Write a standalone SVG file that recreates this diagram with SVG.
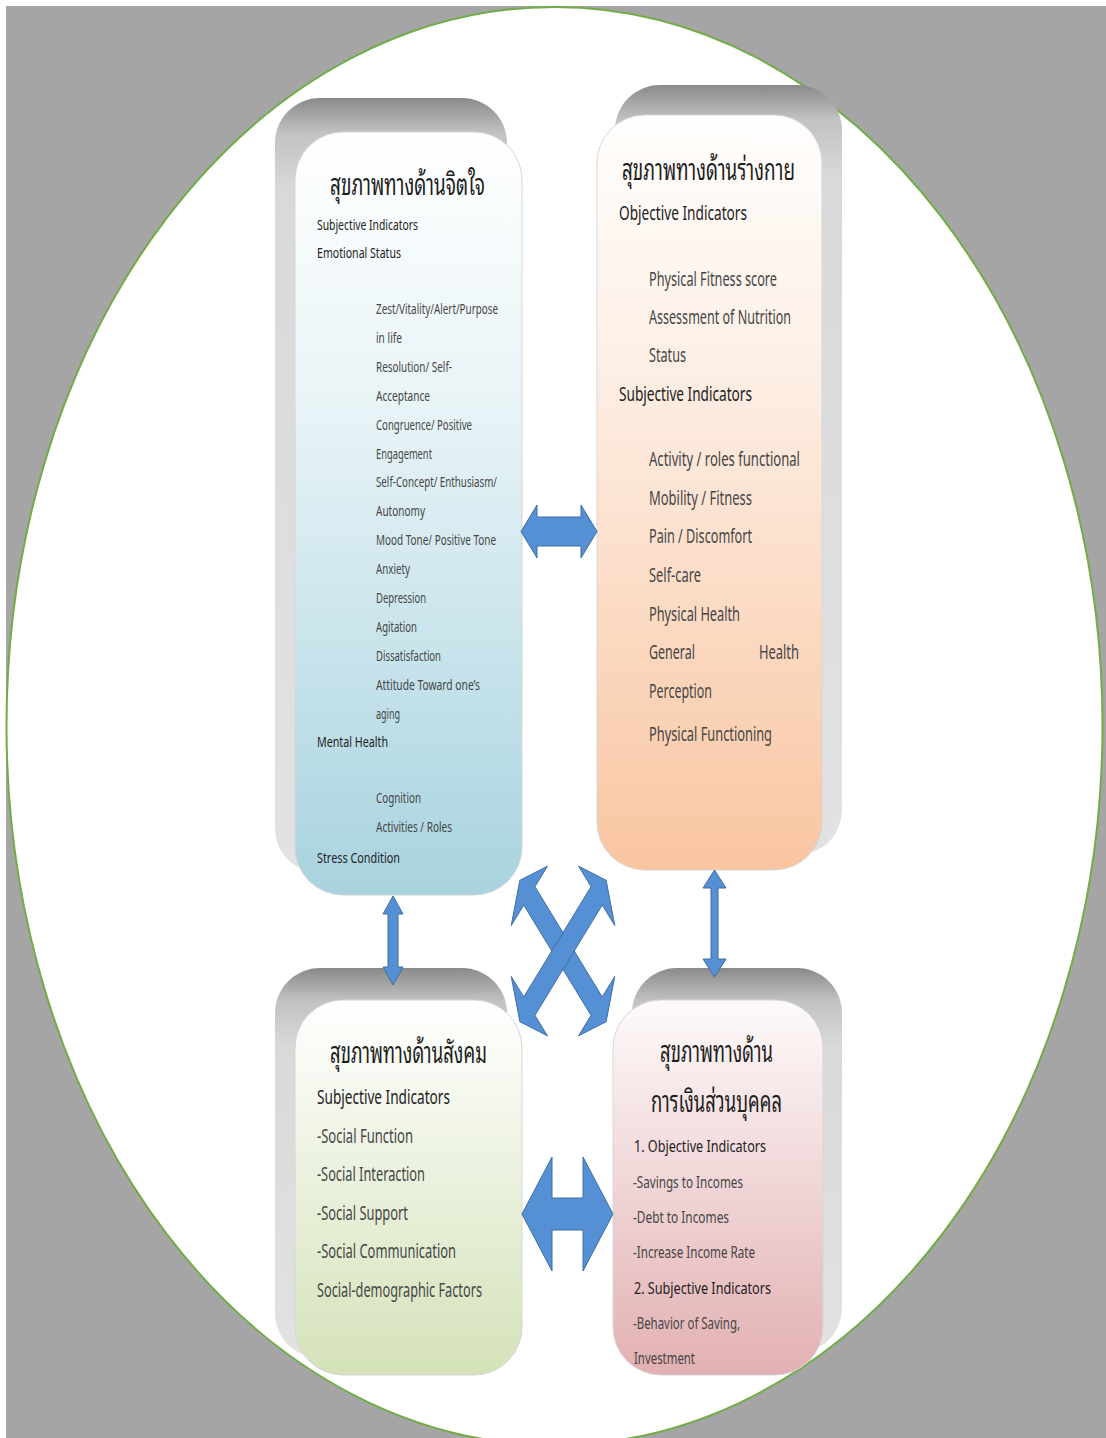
<svg xmlns="http://www.w3.org/2000/svg" width="1106" height="1438" viewBox="0 0 1106 1438">
  <defs>
    <linearGradient id="backTall" x1="0" y1="0" x2="0" y2="1">
      <stop offset="0" stop-color="#8a8a8a"/>
      <stop offset="0.045" stop-color="#c2c2c2"/>
      <stop offset="0.12" stop-color="#d9d9d9"/>
      <stop offset="1" stop-color="#e2e2e2"/>
    </linearGradient>
    <linearGradient id="backShort" x1="0" y1="0" x2="0" y2="1">
      <stop offset="0" stop-color="#8a8a8a"/>
      <stop offset="0.085" stop-color="#c2c2c2"/>
      <stop offset="0.2" stop-color="#d9d9d9"/>
      <stop offset="1" stop-color="#e2e2e2"/>
    </linearGradient>
    <linearGradient id="fillBlue" x1="0" y1="0" x2="0" y2="1">
      <stop offset="0" stop-color="#ffffff"/>
      <stop offset="0.35" stop-color="#e9f4f7"/>
      <stop offset="1" stop-color="#a8d3df"/>
    </linearGradient>
    <linearGradient id="fillPeach" x1="0" y1="0" x2="0" y2="1">
      <stop offset="0" stop-color="#fffefd"/>
      <stop offset="0.3" stop-color="#fdf1e8"/>
      <stop offset="1" stop-color="#f9c5a1"/>
    </linearGradient>
    <linearGradient id="fillGreen" x1="0" y1="0" x2="0" y2="1">
      <stop offset="0" stop-color="#ffffff"/>
      <stop offset="1" stop-color="#d4e2b9"/>
    </linearGradient>
    <linearGradient id="fillPink" x1="0" y1="0" x2="0" y2="1">
      <stop offset="0" stop-color="#fefafa"/>
      <stop offset="1" stop-color="#e2b0b2"/>
    </linearGradient>
    <style>
      .back { stroke: none; }
      .front { stroke: #d6d6d6; stroke-width: 1; }
      .th { font-family: "Noto Sans Thai Looped", "Loma", "Garuda", "Tlwg Typo", "Noto Serif Thai", "Noto Sans Thai", "DejaVu Sans", sans-serif; font-size: 30px; fill: #1e1e1e; }
      .sub { font-family: "Noto Sans", "Liberation Sans", sans-serif; fill: #222222; }
      .item { font-family: "Noto Sans", "Liberation Sans", sans-serif; fill: #464646; }
      .s14 { font-size: 14px; }
      .s15 { font-size: 15px; }
      .s16 { font-size: 16px; }
      .s17 { font-size: 17px; }
      .s19 { font-size: 19px; }
      .arrow { fill: #5590d4; stroke: #3e6da6; stroke-width: 1; stroke-linejoin: miter; }
    </style>
  </defs>

  <!-- page -->
  <rect x="0" y="0" width="1106" height="1438" fill="#ffffff"/>
  <rect x="6" y="6" width="1100" height="1432" fill="#a5a5a5"/>
  <ellipse cx="554.5" cy="726" rx="548" ry="719" fill="#ffffff" stroke="#70ad47" stroke-width="2"/>

  <!-- mental health -->
  <g id="node-mental">
    <rect class="back" x="275" y="98" width="232" height="775" rx="45" fill="url(#backTall)"/>
    <rect class="front" x="295" y="132" width="227" height="763" rx="48" fill="url(#fillBlue)"/>
    <text class="th" x="330" y="195" textLength="155" lengthAdjust="spacingAndGlyphs">สุขภาพทางด้านจิตใจ</text>
    <text class="sub s15" x="317" y="230" textLength="101" lengthAdjust="spacingAndGlyphs">Subjective Indicators</text>
    <text class="sub s15" x="317" y="258" textLength="84" lengthAdjust="spacingAndGlyphs">Emotional Status</text>
    <text class="item s14" x="376" y="314" textLength="122" lengthAdjust="spacingAndGlyphs">Zest/Vitality/Alert/Purpose</text>
    <text class="item s14" x="376" y="343" textLength="26" lengthAdjust="spacingAndGlyphs">in life</text>
    <text class="item s14" x="376" y="372" textLength="76" lengthAdjust="spacingAndGlyphs">Resolution/ Self-</text>
    <text class="item s14" x="376" y="401" textLength="54" lengthAdjust="spacingAndGlyphs">Acceptance</text>
    <text class="item s14" x="376" y="430" textLength="96" lengthAdjust="spacingAndGlyphs">Congruence/ Positive</text>
    <text class="item s14" x="376" y="459" textLength="56" lengthAdjust="spacingAndGlyphs">Engagement</text>
    <text class="item s14" x="376" y="487" textLength="121" lengthAdjust="spacingAndGlyphs">Self-Concept/ Enthusiasm/</text>
    <text class="item s14" x="376" y="516" textLength="49" lengthAdjust="spacingAndGlyphs">Autonomy</text>
    <text class="item s14" x="376" y="545" textLength="120" lengthAdjust="spacingAndGlyphs">Mood Tone/ Positive Tone</text>
    <text class="item s14" x="376" y="574" textLength="34" lengthAdjust="spacingAndGlyphs">Anxiety</text>
    <text class="item s14" x="376" y="603" textLength="50" lengthAdjust="spacingAndGlyphs">Depression</text>
    <text class="item s14" x="376" y="632" textLength="41" lengthAdjust="spacingAndGlyphs">Agitation</text>
    <text class="item s14" x="376" y="661" textLength="65" lengthAdjust="spacingAndGlyphs">Dissatisfaction</text>
    <text class="item s14" x="376" y="690" textLength="104" lengthAdjust="spacingAndGlyphs">Attitude Toward one’s</text>
    <text class="item s14" x="376" y="719" textLength="24" lengthAdjust="spacingAndGlyphs">aging</text>
    <text class="sub s15" x="317" y="747" textLength="71" lengthAdjust="spacingAndGlyphs">Mental Health</text>
    <text class="item s14" x="376" y="803" textLength="45" lengthAdjust="spacingAndGlyphs">Cognition</text>
    <text class="item s14" x="376" y="832" textLength="76" lengthAdjust="spacingAndGlyphs">Activities / Roles</text>
    <text class="sub s15" x="317" y="863" textLength="83" lengthAdjust="spacingAndGlyphs">Stress Condition</text>
  </g>

  <!-- physical health -->
  <g id="node-physical">
    <rect class="back" x="615" y="85" width="227" height="770" rx="45" fill="url(#backTall)"/>
    <rect class="front" x="597" y="115" width="225" height="755" rx="48" fill="url(#fillPeach)"/>
    <text class="th" x="622" y="180" textLength="173" lengthAdjust="spacingAndGlyphs">สุขภาพทางด้านร่างกาย</text>
    <text class="sub s19" x="619" y="220" textLength="128" lengthAdjust="spacingAndGlyphs">Objective Indicators</text>
    <text class="item s19" x="649" y="286" textLength="128" lengthAdjust="spacingAndGlyphs">Physical Fitness score</text>
    <text class="item s19" x="649" y="324" textLength="142" lengthAdjust="spacingAndGlyphs">Assessment of Nutrition</text>
    <text class="item s19" x="649" y="362" textLength="37" lengthAdjust="spacingAndGlyphs">Status</text>
    <text class="sub s19" x="619" y="401" textLength="133" lengthAdjust="spacingAndGlyphs">Subjective Indicators</text>
    <text class="item s19" x="649" y="466" textLength="151" lengthAdjust="spacingAndGlyphs">Activity / roles functional</text>
    <text class="item s19" x="649" y="505" textLength="103" lengthAdjust="spacingAndGlyphs">Mobility / Fitness</text>
    <text class="item s19" x="649" y="543" textLength="103" lengthAdjust="spacingAndGlyphs">Pain / Discomfort</text>
    <text class="item s19" x="649" y="582" textLength="52" lengthAdjust="spacingAndGlyphs">Self-care</text>
    <text class="item s19" x="649" y="621" textLength="91" lengthAdjust="spacingAndGlyphs">Physical Health</text>
    <text class="item s19" x="649" y="659" textLength="46" lengthAdjust="spacingAndGlyphs">General</text>
    <text class="item s19" x="759" y="659" textLength="40" lengthAdjust="spacingAndGlyphs">Health</text>
    <text class="item s19" x="649" y="698" textLength="63" lengthAdjust="spacingAndGlyphs">Perception</text>
    <text class="item s19" x="649" y="741" textLength="123" lengthAdjust="spacingAndGlyphs">Physical Functioning</text>
  </g>

  <!-- social health -->
  <g id="node-social">
    <rect class="back" x="275" y="968" width="232" height="390" rx="45" fill="url(#backShort)"/>
    <rect class="front" x="295" y="1000" width="227" height="375" rx="48" fill="url(#fillGreen)"/>
    <text class="th" x="330" y="1063" textLength="157" lengthAdjust="spacingAndGlyphs">สุขภาพทางด้านสังคม</text>
    <text class="sub s19" x="317" y="1104" textLength="133" lengthAdjust="spacingAndGlyphs">Subjective Indicators</text>
    <text class="item s19" x="317" y="1143" textLength="96" lengthAdjust="spacingAndGlyphs">-Social Function</text>
    <text class="item s19" x="317" y="1181" textLength="108" lengthAdjust="spacingAndGlyphs">-Social Interaction</text>
    <text class="item s19" x="317" y="1220" textLength="91" lengthAdjust="spacingAndGlyphs">-Social Support</text>
    <text class="item s19" x="317" y="1258" textLength="139" lengthAdjust="spacingAndGlyphs">-Social Communication</text>
    <text class="item s19" x="317" y="1297" textLength="165" lengthAdjust="spacingAndGlyphs">Social-demographic Factors</text>
  </g>

  <!-- personal finance -->
  <g id="node-finance">
    <rect class="back" x="632" y="968" width="210" height="385" rx="45" fill="url(#backShort)"/>
    <rect class="front" x="613" y="1000" width="210" height="375" rx="48" fill="url(#fillPink)"/>
    <text class="th" x="660" y="1062" textLength="113" lengthAdjust="spacingAndGlyphs">สุขภาพทางด้าน</text>
    <text class="th" x="651" y="1112" textLength="131" lengthAdjust="spacingAndGlyphs">การเงินส่วนบุคคล</text>
    <text class="sub s17" x="634" y="1152" textLength="132" lengthAdjust="spacingAndGlyphs">1. Objective Indicators</text>
    <text class="item s16" x="633" y="1188" textLength="110" lengthAdjust="spacingAndGlyphs">-Savings to Incomes</text>
    <text class="item s16" x="633" y="1223" textLength="96" lengthAdjust="spacingAndGlyphs">-Debt to Incomes</text>
    <text class="item s16" x="633" y="1258" textLength="122" lengthAdjust="spacingAndGlyphs">-Increase Income Rate</text>
    <text class="sub s17" x="634" y="1294" textLength="137" lengthAdjust="spacingAndGlyphs">2. Subjective Indicators</text>
    <text class="item s16" x="633" y="1329" textLength="107" lengthAdjust="spacingAndGlyphs">-Behavior of Saving,</text>
    <text class="item s16" x="634" y="1364" textLength="61" lengthAdjust="spacingAndGlyphs">Investment</text>
  </g>

  <!-- two-way connectors -->
  <g id="connectors">
    <polygon class="arrow" points="521,531.5 537,505 537,517 581,517 581,505 597,531.5 581,558 581,546 537,546 537,558"/>
    <polygon class="arrow" points="393,896 403,914 398,914 398,967 403,967 393,985 383,967 388,967 388,914 383,914"/>
    <polygon class="arrow" points="714.5,870 726,888 718,888 718,959 726,959 714.5,977 703,959 711,959 711,888 703,888"/>
    <polygon class="arrow" points="522,1214 552,1157 552,1198 583,1198 583,1157 613,1214 583,1271 583,1230 552,1230 552,1271"/>
    <!-- crossed pair: drawn at 45 degrees, then narrowed horizontally -->
    <g transform="translate(563 951) scale(0.61 1)">
      <polygon class="arrow" vector-effect="non-scaling-stroke" transform="rotate(45)" points="-100,0 -78,-42 -78,-13 78,-13 78,-42 100,0 78,42 78,13 -78,13 -78,42"/>
      <polygon class="arrow" vector-effect="non-scaling-stroke" transform="rotate(-45)" points="-100,0 -78,-42 -78,-13 78,-13 78,-42 100,0 78,42 78,13 -78,13 -78,42"/>
    </g>
  </g>
</svg>
